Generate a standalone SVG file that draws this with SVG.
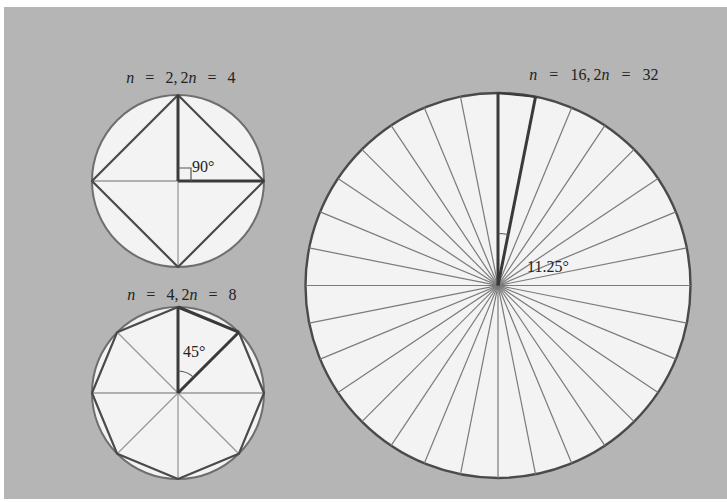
<svg xmlns="http://www.w3.org/2000/svg" width="727" height="502" viewBox="0 0 727 502">
<style>
.disk{fill:#f3f3f3;stroke:#6e6e6e;stroke-width:2}
.thin{stroke:#9a9a9a;stroke-width:1.3;fill:none}
.spoke{stroke:#7a7a7a;stroke-width:1.2;fill:none}
.heavy{stroke:#3a3a3a;stroke-width:3;fill:none;stroke-linejoin:round}
.poly{stroke:#4a4a4a;stroke-width:2.2;fill:none;stroke-linejoin:round}
.mark{stroke:#555;stroke-width:1.2;fill:none}
text{font-family:"Liberation Serif","DejaVu Serif",serif;font-size:16px;fill:#222}
.lbl{word-spacing:7px}
.it{font-style:italic}
</style>
<rect x="0" y="0" width="727" height="502" fill="#ffffff"/>
<rect x="4" y="7" width="723" height="492" fill="#b5b5b5"/>

<g id="square">
  <circle class="disk" cx="178" cy="181" r="86"/>
  <line class="thin" x1="92" y1="181" x2="264" y2="181"/>
  <line class="thin" x1="178" y1="95" x2="178" y2="267"/>
  <polygon class="poly" points="178,95 264,181 178,267 92,181"/>
  <line class="heavy" x1="178" y1="95" x2="178" y2="181"/>
  <line class="heavy" x1="178" y1="181" x2="264" y2="181"/>
  <polyline class="mark" points="178,168 191,168 191,181"/>
  <text x="192" y="172" font-size="14">90°</text>
  <text class="lbl" x="181" y="83" text-anchor="middle"><tspan class="it">n</tspan> = 2,&#8201;2<tspan class="it">n</tspan> = 4</text>
</g>

<g id="octagon">
  <circle class="disk" cx="178" cy="393" r="86"/>
  <line class="thin" x1="92" y1="393" x2="264" y2="393"/>
  <line class="thin" x1="178" y1="307" x2="178" y2="479"/>
  <line class="thin" x1="117.2" y1="332.2" x2="238.8" y2="453.8"/>
  <line class="thin" x1="238.8" y1="332.2" x2="117.2" y2="453.8"/>
  <polygon class="poly" points="178,307 238.8,332.2 264,393 238.8,453.8 178,479 117.2,453.8 92,393 117.2,332.2"/>
  <line class="heavy" x1="178" y1="307" x2="178" y2="393"/>
  <line class="heavy" x1="178" y1="393" x2="238.8" y2="332.2"/>
  <line class="heavy" x1="178" y1="307" x2="238.8" y2="332.2"/>
  <path class="mark" d="M178,371 A22,22 0 0 1 193.6,377.4"/>
  <text x="183" y="357" font-size="14">45°</text>
  <text class="lbl" x="182" y="300" text-anchor="middle"><tspan class="it">n</tspan> = 4,&#8201;2<tspan class="it">n</tspan> = 8</text>
</g>

<g id="polygon32">
  <circle class="disk" cx="498" cy="285.5" r="192.5" style="stroke:#4a4a4a;stroke-width:2.4"/>
  <g transform="translate(498,285.5)">
    <line class="spoke" x1="0" y1="-192.5" x2="0" y2="192.5" transform="rotate(0)"/>
    <line class="spoke" x1="0" y1="-192.5" x2="0" y2="192.5" transform="rotate(11.25)"/>
    <line class="spoke" x1="0" y1="-192.5" x2="0" y2="192.5" transform="rotate(22.5)"/>
    <line class="spoke" x1="0" y1="-192.5" x2="0" y2="192.5" transform="rotate(33.75)"/>
    <line class="spoke" x1="0" y1="-192.5" x2="0" y2="192.5" transform="rotate(45)"/>
    <line class="spoke" x1="0" y1="-192.5" x2="0" y2="192.5" transform="rotate(56.25)"/>
    <line class="spoke" x1="0" y1="-192.5" x2="0" y2="192.5" transform="rotate(67.5)"/>
    <line class="spoke" x1="0" y1="-192.5" x2="0" y2="192.5" transform="rotate(78.75)"/>
    <line class="spoke" x1="0" y1="-192.5" x2="0" y2="192.5" transform="rotate(90)"/>
    <line class="spoke" x1="0" y1="-192.5" x2="0" y2="192.5" transform="rotate(101.25)"/>
    <line class="spoke" x1="0" y1="-192.5" x2="0" y2="192.5" transform="rotate(112.5)"/>
    <line class="spoke" x1="0" y1="-192.5" x2="0" y2="192.5" transform="rotate(123.75)"/>
    <line class="spoke" x1="0" y1="-192.5" x2="0" y2="192.5" transform="rotate(135)"/>
    <line class="spoke" x1="0" y1="-192.5" x2="0" y2="192.5" transform="rotate(146.25)"/>
    <line class="spoke" x1="0" y1="-192.5" x2="0" y2="192.5" transform="rotate(157.5)"/>
    <line class="spoke" x1="0" y1="-192.5" x2="0" y2="192.5" transform="rotate(168.75)"/>
    <line class="heavy" x1="0" y1="0" x2="0" y2="-192.5"/>
    <line class="heavy" x1="0" y1="0" x2="37.55" y2="-188.8"/>
    <line class="heavy" x1="0" y1="-192.5" x2="37.55" y2="-188.8" style="stroke-width:2"/>
    <path class="mark" d="M0,-52 A52,52 0 0 1 10.14,-51"/>
  </g>
  <text x="527" y="272">11.25°</text>
  <text class="lbl" x="594" y="80" text-anchor="middle" style="word-spacing:8px"><tspan class="it">n</tspan> = 16,&#8201;2<tspan class="it">n</tspan> = 32</text>
</g>
</svg>
